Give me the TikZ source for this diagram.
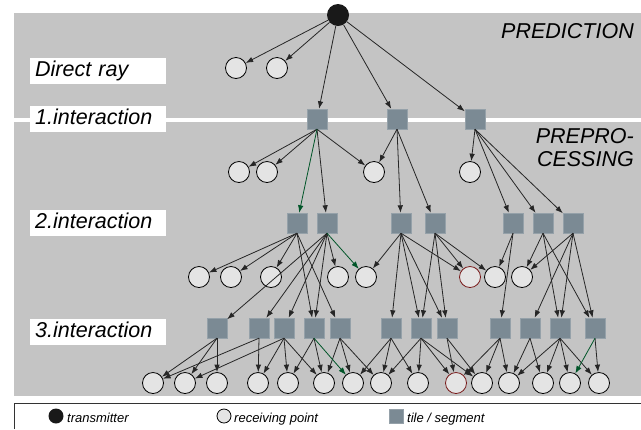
\documentclass[tikz,border=0pt]{standalone}
\usepackage{fontspec}
\setmainfont{Liberation Sans}
\usetikzlibrary{arrows.meta}
\definecolor{bggray}{RGB}{196,196,196}
\definecolor{tilegray}{RGB}{123,138,148}
\definecolor{rcvgray}{RGB}{228,228,228}
\definecolor{raygreen}{RGB}{0,85,40}
\definecolor{rcvred}{RGB}{120,25,25}
\begin{document}
\begin{tikzpicture}[x = 1bp, y = -1bp,
  rcv/.style = {circle, draw, fill = rcvgray, minimum size = 21bp,
  inner sep = 0pt, line width = .8bp},
  tile/.style = {rectangle, fill = tilegray, draw = tilegray!80!white,
  minimum size = 20bp, inner sep = 0pt},
  ray/.style = {-{Latex[length = 7.5bp, width = 5.5bp]}, line width = .8bp,
  black!85},
  lbl/.style = {fill = white, anchor = west, text width = 126bp,
  inner xsep = 5bp, inner ysep = 3bp, text height = 15.5bp,
  text depth = 4.5bp, font = \fontsize{21.5bp}{22bp}\selectfont\itshape},
  big/.style = {anchor = base east, inner sep = 0pt,
  font = \fontsize{21.5bp}{22bp}\selectfont\itshape},
  key/.style = {anchor = base west, inner sep = 0pt,
  font = \fontsize{13bp}{14bp}\selectfont\itshape}]
  \useasboundingbox (0, 0) rectangle (641, 429);
  \fill[bggray] (14, 13) rectangle (641, 396);
  \draw[white, line width = 4bp] (14, 120) -- (641, 120);
  \node[lbl] (ldir) at (30, 71) {Direct ray};
  \node[lbl] (lone) at (30, 118.5) {1.interaction};
  \node[lbl] (ltwo) at (30, 222.5) {2.interaction};
  \node[lbl] (lthree) at (30, 332) {3.interaction};
  \node[big] (pred) at (634, 38) {PREDICTION};
  \node[big] (prepa) at (634, 143.5) {PREPRO-};
  \node[big] (prepb) at (634, 166) {CESSING};
  \node[circle, fill = black!90, minimum size = 22bp] (t) at (338, 15) {};
  \foreach \x [count = \i] in {236, 277}
    \node[rcv] (d\i) at (\x, 68) {};
  \foreach \x [count = \i] in {317, 397, 475}
    \node[tile] (a\i) at (\x, 119) {};
  \foreach \x [count = \i] in {239, 267, 374, 470}
    \node[rcv] (p\i) at (\x, 172) {};
  \foreach \x [count = \i] in {297, 327, 401, 435, 513, 543, 573}
    \node[tile] (b\i) at (\x, 223) {};
  \foreach \x/\c [count = \i] in {199/black, 231/black, 271/black, 338/black,
    366/black, 470/rcvred, 495/black, 522/black}
    \node[rcv, draw = \c] (q\i) at (\x, 277) {};
  \foreach \x [count = \i] in {217, 259, 284, 314, 340, 391, 421, 447, 500,
    530, 560, 595}
    \node[tile] (c\i) at (\x, 328) {};
  \foreach \x/\c [count = \i] in {153/black, 185/black, 217/black, 258/black,
    288/black, 324/black, 353/black, 381/black, 418/black, 456/rcvred,
    482/black, 509/black, 543/black, 570/black, 599/black}
    \node[rcv, draw = \c] (r\i) at (\x, 383) {};
  \foreach \e in {d1, d2, a1, a2, a3}
    \draw[ray] (t) -- (\e);
  \foreach \s/\e in {a1/p1, a1/p2, a1/p3, a1/b2, a2/p3, a2/b3, a2/b4, a3/p4,
    a3/b5, a3/b6, a3/b7,
    b1/q1, b1/q2, b1/q3, b1/c4, b1/c5, b2/c1, b2/c2, b2/c3, b2/c4, b2/q4,
    b3/q5, b3/c6, b3/c7, b3/c8, b3/q6, b4/c7, b4/c8, b4/q6, b4/q7, b5/q7,
    b5/c9, b6/q8, b6/c11, b6/c12, b7/q8, b7/c10, b7/c11, b7/c12,
    c1/r1, c1/r2, c1/r3, c2/r1, c2/r4, c3/r2, c3/r4, c3/r5, c3/r6, c4/r5,
    c4/r6, c5/r6, c5/r7, c5/r8, c6/r7, c6/r8, c6/r9, c7/r8, c7/r9, c7/r10,
    c7/r11, c8/r10, c8/r11, c9/r10, c9/r11, c9/r12, c10/r12, c10/r13,
    c11/r12, c11/r13, c11/r14, c11/r15, c12/r15}
    \draw[ray] (\s.south) -- (\e);
  \foreach \s/\e in {a1/b1, b2/q5, c4/r7, c12/r14}
    \draw[ray, raygreen] (\s.south) -- (\e);
  \draw[line width = 1bp, black!80] (14, 429) -- (14, 403) -- (641, 403);
  \node[circle, fill = black!90, minimum size = 15bp, inner sep = 0pt] (kt)
  at (56, 416) {};
  \node[key] (ktx) at (67, 422) {transmitter};
  \node[rcv, minimum size = 14bp] (kr) at (224, 416) {};
  \node[key] (krx) at (234, 422) {receiving point};
  \node[tile, minimum size = 14bp] (ks) at (396, 416) {};
  \node[key] (ksx) at (407, 422) {tile / segment};
\end{tikzpicture}
\end{document}
